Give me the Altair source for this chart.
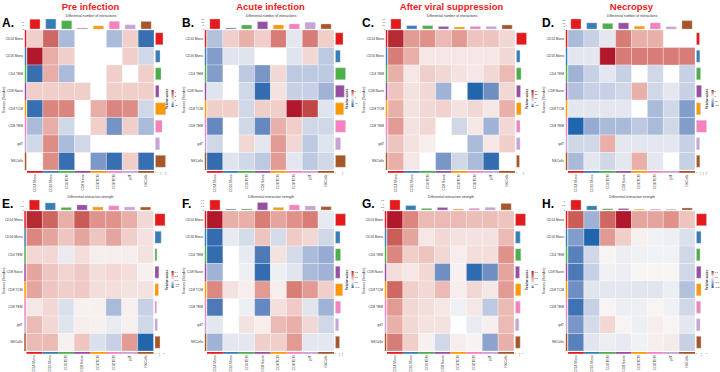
import altair as alt
import pandas as pd

# Cell populations (senders on rows, receivers on columns) and their annotation colours
cell_types = ["CD14 Mono", "CD16 Mono", "CD4 TEM", "CD8 Naive", "CD8 TCM", "CD8 TEM", "gdT", "NKCells"]
cell_colors = ["#E41A1C", "#377EB8", "#4DAF4A", "#984EA3", "#FF9900", "#F781BF", "#C7A3D6", "#A65628"]

stage_titles = ["Pre infection", "Acute infection", "After viral suppression", "Necropsy"]
panel_letters = ["A.", "B.", "C.", "D.", "E.", "F.", "G.", "H."]
metric_titles = ["Differential number of interactions", "Differential interaction strength"]

# Differential number of interactions (rows = sources, columns = targets)
count_pre = [
    [1, 3.5, -1.2, 0, 0, -1.2, 1, -2.8],
    [5, 1.8, 1, 0, 0, 0, 1, -0.6],
    [-2.8, 1.8, -1.2, 0, 0, 1, 0, 1],
    [1, 1, 1, 1, 0, 1, 1, 1],
    [-2.8, 2.8, 2.8, 0, 1.8, 2.8, 2.6, -0.6],
    [-1.2, 1.8, -0.6, 0, 1, -2, 1, -1.2],
    [-0.6, 2.6, -1.2, -0.6, 0, 0, 0, 0],
    [0, 2.6, -2.8, 0, -1.9, -2.8, 1, -2.8],
]
count_acute = [
    [-2.8, 1.2, 2.1, 1.2, 3.6, -0.8, 3.6, 1.2],
    [-4.8, -1, -1, 0, 0, -1, 0.9, -2.4],
    [-4.8, 0, -2.4, -5.2, 0.9, -2.4, -2.4, -2.4],
    [-1, 0, -1.6, -7.6, 0.6, -2, -2, -3.6],
    [1.2, 1.2, -1.6, 1.2, 1.2, 6, 5.1, -1],
    [-6, 0, -1.6, -6, 2.1, 1.2, -1.6, -1.6],
    [-1.6, 0, 0.9, -0.8, 2.7, 0.9, -2.4, -1],
    [-7.6, -1, -1.6, -2.4, 2.7, -0.8, -2.4, -1.6],
]
count_suppressed = [
    [28.5, 13.5, 15, 9, 13.5, 7.5, 7.5, 4.5],
    [18, 10.5, 2.4, 2.4, 2.4, 2.4, 2.4, 4.5],
    [10.5, 2.4, 6, 4.5, 3, 2.4, 4.5, 9],
    [7.5, 3, 4.5, -4.5, 0, -10, -7, 4.5],
    [10.5, 3, 4.5, 5.4, 3, 4.5, 2.4, 10.5],
    [13.5, 3, 4.5, 0, -2, 2.4, -4.5, 4.5],
    [7.5, 3, 1.5, 0, 0, -4, 2.4, 6],
    [10.5, 2.4, 0, -6.5, -2, -4, -9.5, 0],
]
count_necropsy = [
    [-4, -2.5, -1, 3.6, 2.1, 2.1, 0, 0],
    [-1, -1, 6, 3.6, 3.6, 3.6, 3.6, 3.6],
    [-4.5, -2.5, -1, -2.5, 0, -2, 0, -2.5],
    [-3.5, -2.5, -2.5, -2, 2.1, -2, -1, -2.5],
    [-1, -1, -1, -1, 0, -4, -2, -6],
    [-10, -5, -4, -4, -3, -4, -2, -6],
    [-2, -2, 2.1, -1, -1, -1, -1, -2.5],
    [-4, -1, -2, -1, 2.1, -1, 0, -2.5],
]

# Differential interaction strength
weight_pre = [
    [0.43, 0.32, 0.16, 0.34, 0.22, 0.22, 0.16, 0.07],
    [0.25, 0.18, 0.11, 0.18, 0.11, 0.18, 0.09, 0.045],
    [0.07, 0.07, -0.03, 0.055, 0.02, 0.02, 0.02, 0.045],
    [0.18, 0.11, 0.08, 0.1, 0.055, 0.07, 0.055, 0.015],
    [0.18, 0.11, 0.09, 0.1, 0.055, 0.055, 0.045, 0.045],
    [0.035, 0.07, -0.06, 0.015, 0.015, -0.16, 0.015, -0.1],
    [0.135, 0.07, -0.05, 0.02, 0.015, -0.03, 0.015, -0.08],
    [0.135, 0.135, 0.015, 0.11, -0.06, -0.1, 0.2, -0.4],
]
weight_acute = [
    [0.22, 0.077, 0.077, 0.13, 0.088, 0.11, 0.13, -0.01],
    [-0.114, -0.01, -0.022, 0.055, -0.022, 0.048, 0.033, -0.024],
    [-0.114, 0, -0.01, -0.102, 0.022, -0.022, -0.048, -0.06],
    [-0.054, 0, -0.006, -0.114, -0.006, -0.014, -0.048, -0.054],
    [0.12, 0.022, 0.011, 0.1, 0.011, 0.13, 0.1, 0.044],
    [-0.102, 0, -0.006, -0.09, 0.026, 0.048, -0.014, -0.054],
    [-0.012, 0, 0.022, 0.011, 0.066, 0.077, 0.033, -0.024],
    [-0.054, -0.012, -0.012, 0.044, 0.044, 0.1, -0.012, -0.012],
]
weight_suppressed = [
    [1.0, 0.55, 0.3, 0.3, 0.3, 0.28, 0.28, 0.25],
    [0.75, 0.4, 0.08, 0.15, 0.1, 0.1, 0.1, 0.3],
    [0.55, 0.2, 0.25, 0.15, 0.05, 0.12, 0.12, 0.5],
    [0.12, 0.08, 0.15, -0.175, 0.03, -0.24, -0.175, 0.4],
    [0.7, 0.2, 0.15, 0.3, 0.05, 0.15, 0.08, 0.45],
    [0.45, 0.15, 0.12, 0.08, -0.012, 0.08, -0.075, 0.3],
    [0.35, 0.15, 0.1, 0.1, 0, -0.02, 0.04, 0.3],
    [0.6, 0.2, 0.03, -0.05, 0.05, 0.02, -0.14, 0.35],
]
weight_necropsy = [
    [0.09, -0.1, 0.084, 0.12, 0.048, 0.048, 0.06, 0.03],
    [-0.132, -0.22, 0.054, 0.024, 0.004, -0.007, -0.011, -0.033],
    [-0.176, -0.044, 0.002, -0.013, -0.009, -0.007, -0.007, -0.044],
    [-0.187, -0.055, -0.009, -0.013, 0.002, 0.002, 0.002, -0.044],
    [-0.154, -0.026, -0.022, -0.022, -0.026, -0.026, -0.013, -0.077],
    [-0.198, -0.055, 0.002, -0.013, -0.011, 0.002, -0.009, -0.044],
    [-0.143, -0.04, 0.018, 0.002, -0.011, 0.006, 0.002, -0.022],
    [-0.176, -0.026, -0.013, -0.018, -0.009, 0.005, 0.007, -0.055],
]

heat_values = [count_pre, count_acute, count_suppressed, count_necropsy,
               weight_pre, weight_acute, weight_suppressed, weight_necropsy]

# Colour limits (min, max) and legend ticks for each panel
color_limits = [(-3, 5), (-8, 6), (-10, 30), (-10, 6),
                (-0.4, 0.45), (-0.12, 0.22), (-0.25, 1.0), (-0.22, 0.12)]
legend_ticks = [[-2, 0, 2, 4], [-5, 0, 5], [-10, 0, 10, 20, 30], [-10, -5, 0, 5],
                [-0.4, -0.2, 0, 0.2, 0.4], [-0.1, 0, 0.1, 0.2], [0, 0.5, 1], [-0.2, -0.1, 0, 0.1]]

# Column totals (incoming, top bars) and row totals (outgoing, right bars)
incoming = [
    [14, 14.5, 12, 1, 4.5, 11, 6, 11],
    [15, 1.5, 6, 11, 6, 7.5, 10, 7.5],
    [60, 20, 20, 15, 12, 15, 15, 24],
    [18, 11, 10, 11, 5, 11, 4, 15],
    [1.2, 0.85, 0.3, 0.6, 0.35, 0.5, 0.35, 0.35],
    [0.6, 0.05, 0.06, 0.45, 0.15, 0.3, 0.24, 0.2],
    [1.6, 0.7, 0.25, 0.4, 0.15, 0.25, 0.4, 1.05],
    [1.1, 0.45, 0.13, 0.16, 0.08, 0.08, 0.08, 0.22],
]
outgoing = [
    [15, 9, 11, 7, 20, 13, 8, 20],
    [12, 7.5, 16, 14, 13, 16, 8, 16],
    [75, 26, 34, 30, 34, 26, 26, 22],
    [9, 10, 12, 15, 12, 30, 9, 10],
    [1.3, 0.8, 0.25, 0.5, 0.45, 0.2, 0.3, 0.65],
    [0.6, 0.27, 0.3, 0.27, 0.42, 0.3, 0.18, 0.24],
    [1.5, 0.7, 0.8, 0.6, 0.8, 0.7, 0.5, 0.7],
    [1.0, 0.45, 0.35, 0.45, 0.45, 0.4, 0.35, 0.45],
]
incoming_ticks = [[0, 5, 10], [0, 5, 10, 15], [0, 20, 40, 60], [0, 5, 10, 15],
                  [0, 0.5, 1], [0, 0.2, 0.4, 0.6], [0, 0.5, 1, 1.5], [0, 0.5, 1]]
outgoing_ticks = [[0, 10, 20], [0, 10], [0, 50], [0, 10, 20, 30],
                  [0, 0.5, 1], [0, 0.2, 0.4], [0, 0.5, 1], [0, 0.5, 1]]

# Layout of each heatmap body
heat_left = [27, 207, 388, 568, 26.5, 207, 387, 568]
heat_top = [30, 211]
heat_w, heat_h = 127, 140
bar_len = 10
FONT = "Liberation Sans"
label_color = "#333333"

diverging = ["#2166ac", "#f7f7f7", "#b2182b"]


def panel_layers(p):
    row, col = divmod(p, 4)
    ox = col * 180
    x0 = heat_left[p]
    x1 = x0 + heat_w
    y0 = heat_top[row]
    y1 = y0 + heat_h
    lo, hi = color_limits[p]
    mat = heat_values[p]

    cells = pd.DataFrame([
        {"source": s, "target": t, "value": mat[i][j]}
        for i, s in enumerate(cell_types)
        for j, t in enumerate(cell_types)
        if mat[i][j] != 0
    ])
    cats = pd.DataFrame({"cell": cell_types, "incoming": incoming[p], "outgoing": outgoing[p]})

    def xband(pad_in=0.0, pad_out=0.0):
        return alt.Scale(domain=cell_types, range=[x0, x1], paddingInner=pad_in, paddingOuter=pad_out)

    def yband(pad_in=0.0, pad_out=0.0):
        return alt.Scale(domain=cell_types, range=[y0, y1], paddingInner=pad_in, paddingOuter=pad_out)

    ctype_color = alt.Color("cell:N", scale=alt.Scale(domain=cell_types, range=cell_colors), legend=None)
    top_scale = alt.Scale(domain=[0, max(incoming[p])], range=[y0 - 1, y0 - 1 - bar_len], nice=False, zero=True)
    right_scale = alt.Scale(domain=[0, max(outgoing[p])], range=[x1 + 1.5, x1 + 1.5 + bar_len], nice=False, zero=True)

    heat = alt.Chart(cells).mark_rect(stroke="white", strokeWidth=0.3).encode(
        x=alt.X("target:N", scale=xband(), axis=None),
        y=alt.Y("source:N", scale=yband(), axis=None),
        color=alt.Color(
            "value:Q",
            scale=alt.Scale(domain=[lo, 0, hi], range=diverging, interpolate="lab"),
            legend=alt.Legend(
                orient="none", legendX=ox + 166, legendY=(y0 + y1) / 2 - 10,
                title="Relative values", titleOrient="left", titleFontSize=3.0,
                titleFontWeight="normal", titleFont=FONT, titlePadding=1.5,
                labelFontSize=2.5, labelFont=FONT, labelOffset=0.8, labelOverlap=False,
                gradientLength=17, gradientThickness=2.2, values=legend_ticks[p],
                padding=0, direction="vertical",
            ),
        ),
    )

    top_bars = alt.Chart(cats).mark_bar(stroke="#d0d0d0", strokeWidth=0.4).encode(
        x=alt.X("cell:N", scale=xband(0.36, 0.18), axis=None),
        y=alt.Y("incoming:Q", scale=top_scale, axis=None),
        color=ctype_color,
    )
    right_bars = alt.Chart(cats).mark_bar(stroke="#d0d0d0", strokeWidth=0.4).encode(
        y=alt.Y("cell:N", scale=yband(0.32, 0.16), axis=None),
        x=alt.X("outgoing:Q", scale=right_scale, axis=None),
        color=ctype_color,
    )
    left_strip = alt.Chart(cats).mark_rect().encode(
        y=alt.Y("cell:N", scale=yband(), axis=None),
        x=alt.value(x0 - 2.2), x2=alt.value(x0 - 0.7),
        color=ctype_color,
    )
    bottom_strip = alt.Chart(cats).mark_rect().encode(
        x=alt.X("cell:N", scale=xband(), axis=None),
        y=alt.value(y1 + 1), y2=alt.value(y1 + 2.8),
        color=ctype_color,
    )
    row_labels = alt.Chart(cats).mark_text(
        align="right", baseline="middle", fontSize=3.3, font=FONT, color=label_color
    ).encode(
        y=alt.Y("cell:N", scale=yband(), axis=None),
        x=alt.value(x0 - 4),
        text="cell:N",
    )
    col_labels = alt.Chart(cats).mark_text(
        align="right", baseline="middle", angle=270, fontSize=3.3, font=FONT, color=label_color
    ).encode(
        x=alt.X("cell:N", scale=xband(), axis=None),
        y=alt.value(y1 + 4.5),
        text="cell:N",
    )
    top_tick_labels = alt.Chart(pd.DataFrame({"tick": incoming_ticks[p]})).mark_text(
        align="right", baseline="middle", fontSize=2.4, font=FONT, color=label_color
    ).encode(
        y=alt.Y("tick:Q", scale=top_scale, axis=None),
        x=alt.value(x0 - 3),
        text="tick:Q",
    )
    right_tick_labels = alt.Chart(pd.DataFrame({"tick": outgoing_ticks[p]})).mark_text(
        align="right", baseline="middle", angle=270, fontSize=2.4, font=FONT, color=label_color
    ).encode(
        x=alt.X("tick:Q", scale=right_scale, axis=None),
        y=alt.value(y1 + 2),
        text="tick:Q",
    )

    one = pd.DataFrame({"k": [0]})
    letter = alt.Chart(one).mark_text(
        text=panel_letters[p], align="left", baseline="alphabetic",
        fontSize=12, fontWeight="bold", font=FONT, color="black"
    ).encode(x=alt.value(ox + 2), y=alt.value(y0 - 3.5))
    subtitle = alt.Chart(one).mark_text(
        text=metric_titles[row], align="center", baseline="middle",
        fontSize=3.4, font=FONT, color=label_color
    ).encode(x=alt.value(x0 + heat_w / 2 + 0.5), y=alt.value(y0 - 14.5))
    ylab = alt.Chart(one).mark_text(
        text="Sources (Sender)", align="center", baseline="middle", angle=270,
        fontSize=3.4, font=FONT, color=label_color
    ).encode(x=alt.value(ox + 3.5), y=alt.value((y0 + y1) / 2))

    layers = [heat, top_bars, right_bars, left_strip, bottom_strip, row_labels,
              col_labels, top_tick_labels, right_tick_labels, letter, subtitle, ylab]
    if row == 0:
        stage = alt.Chart(one).mark_text(
            text=stage_titles[col], align="center", baseline="alphabetic",
            fontSize=9.5, fontWeight="bold", font=FONT, color="#EE1C1C"
        ).encode(x=alt.value(x0 + heat_w / 2), y=alt.value(9.5))
        layers.append(stage)
    return layers


all_layers = []
for p in range(8):
    all_layers.extend(panel_layers(p))

chart = alt.layer(*all_layers).resolve_scale(
    x="independent", y="independent", color="independent"
).properties(
    width=720, height=372, autosize=alt.AutoSizeParams(type="none"), padding=0,
    background="white",
).configure_view(stroke=None)

chart.save("out.html", embed_options={"renderer": "svg", "actions": False})
